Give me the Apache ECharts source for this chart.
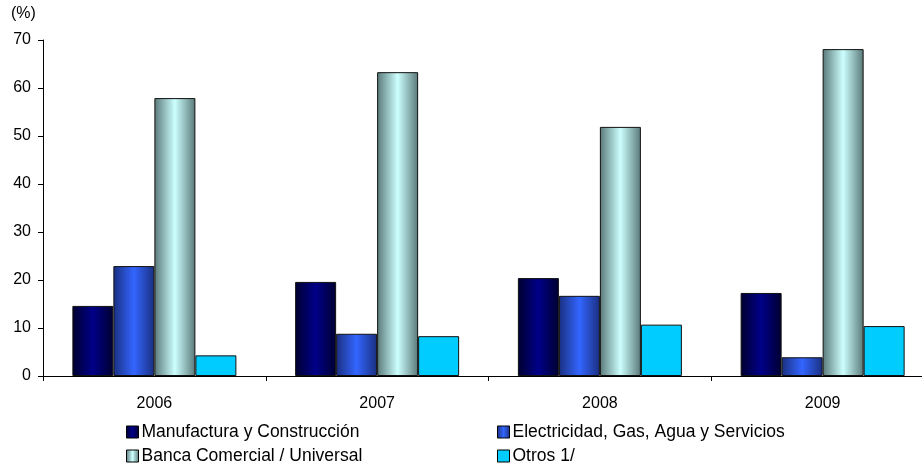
<!DOCTYPE html>
<html><head><meta charset="utf-8">
<script src="https://cdn.jsdelivr.net/npm/echarts@6/dist/echarts.min.js"></script>
<style>html,body{margin:0;padding:0;background:#fff;overflow:hidden}#c{width:934px;height:467px}</style>
</head><body><div id="c"></div>
<script>
const categories = ['2006', '2007', '2008', '2009'];
const manufactura = [14.6, 19.6, 20.4, 17.3];
const electricidad = [22.9, 8.8, 16.7, 3.9];
const banca = [57.9, 63.3, 51.9, 68.1];
const otros = [4.3, 8.3, 10.7, 10.4];
const yTicks = [0, 10, 20, 30, 40, 50, 60, 70];
const names = ['Manufactura y Construcción', 'Electricidad, Gas, Agua y Servicios', 'Banca Comercial / Universal', 'Otros 1/'];

function hgrad(edge, center) {
  return new echarts.graphic.LinearGradient(0, 0, 1, 0, [
    {offset: 0, color: edge}, {offset: 0.5, color: center}, {offset: 1, color: edge}
  ]);
}
const font = 'Liberation Sans, Arial, sans-serif';
const chart = echarts.init(document.getElementById('c'), null, {renderer: 'canvas'});
function mk(name, data, color) {
  return {
    name, type: 'bar', data, barWidth: 41, barGap: '0%',
    itemStyle: {color, borderColor: '#111', borderWidth: 1},
    emphasis: {disabled: true}
  };
}
function lg(name, left, top) {
  return {data: [name], left, top, itemWidth: 12, itemHeight: 12, padding: 0,
    icon: 'rect', selectedMode: false,
    itemStyle: {borderColor: '#000', borderWidth: 1},
    textStyle: {fontFamily: font, fontSize: 17.5, color: '#000', padding: [0, 0, 0, -2]}};
}
chart.setOption({
  animation: false,
  grid: {left: 43, top: 40, right: 0, bottom: 91, containLabel: false},
  graphic: [{type: 'text', left: 11, top: 6, style: {text: '(%)', font: '16px ' + font, fill: '#000'}}],
  legend: [
    lg(names[0], 126, 423),
    lg(names[2], 126, 447),
    lg(names[1], 497, 423),
    lg(names[3], 497, 447)
  ],
  xAxis: {
    type: 'category', data: categories,
    axisLine: {lineStyle: {color: '#000', width: 1}},
    axisTick: {show: true, length: 5, lineStyle: {color: '#000'}},
    axisLabel: {fontFamily: font, fontSize: 16, color: '#000', margin: 20}
  },
  yAxis: {
    type: 'value', min: 0, max: 70, interval: 10,
    axisLine: {show: true, lineStyle: {color: '#000', width: 1}},
    axisTick: {show: true, length: 5, lineStyle: {color: '#000'}},
    axisLabel: {fontFamily: font, fontSize: 16, color: '#000', margin: 12,
      formatter: v => yTicks.includes(v) ? String(v) : ''},
    splitLine: {show: false}
  },
  series: [
    mk(names[0], manufactura, hgrad('#000030', '#000088')),
    mk(names[1], electricidad, hgrad('#1a2f80', '#3366ff')),
    mk(names[2], banca, hgrad('#5a7878', '#ccffff')),
    mk(names[3], otros, '#00ccff')
  ]
});
</script></body></html>
